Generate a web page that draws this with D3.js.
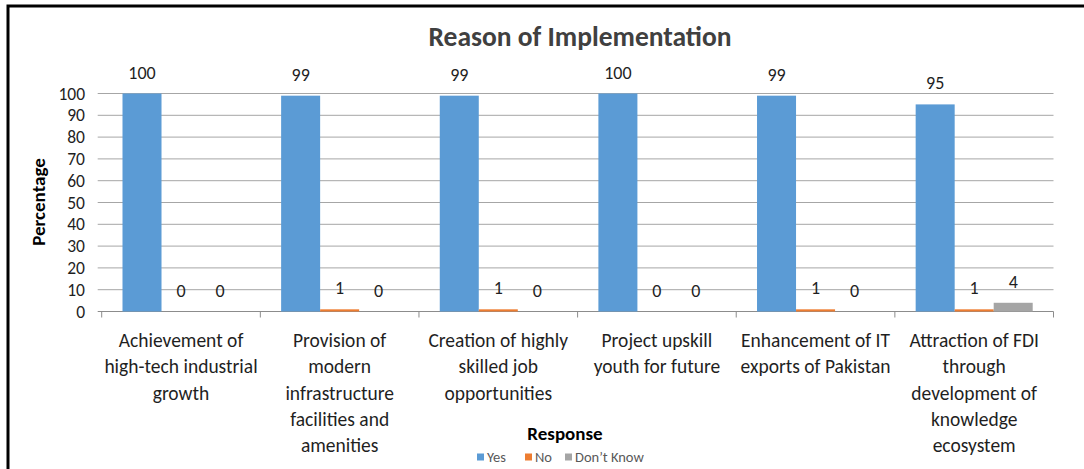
<!DOCTYPE html>
<html>
<head>
<meta charset="utf-8">
<script src="https://cdn.jsdelivr.net/npm/d3@7"></script>
<style>
  html, body { margin: 0; padding: 0; background: #fff; }
  svg { display: block; }
  text { font-family: Carlito, Lato, "Open Sans", sans-serif; }
</style>
</head>
<body>
<svg id="chart" width="1084" height="469"></svg>
<script>
// Survey responses per reason (percent)
const categories = [
  ["Achievement of", "high-tech industrial", "growth"],
  ["Provision of", "modern", "infrastructure", "facilities and", "amenities"],
  ["Creation of highly", "skilled job", "opportunities"],
  ["Project upskill", "youth for future"],
  ["Enhancement of IT", "exports of Pakistan"],
  ["Attraction of FDI", "through", "development of", "knowledge", "ecosystem"]
];
const seriesNames = ["Yes", "No", "Don\u2019t Know"];
const yesValues = [100, 99, 99, 100, 99, 95];
const noValues = [0, 1, 1, 0, 1, 1];
const dontKnowValues = [0, 0, 0, 0, 0, 4];
const yTicks = [0, 10, 20, 30, 40, 50, 60, 70, 80, 90, 100];
const colors = ["#5B9BD5", "#ED7D31", "#A5A5A5"];

const values = [yesValues, noValues, dontKnowValues];
const catKeys = categories.map((c, i) => i);

const svg = d3.select("#chart");
const W = 1084, H = 469;
const plot = { left: 101.7, right: 1053.5, top: 93.5, bottom: 311.5 };
const textColor = "#1f1f1f";

// outer frame
svg.append("path")
  .attr("d", `M8,${H} L8,6 L${W},6`)
  .attr("fill", "none").attr("stroke", "#000").attr("stroke-width", 3);

const x = d3.scaleBand().domain(catKeys).range([plot.left, plot.right]).padding(0);
const xs = d3.scaleBand().domain(d3.range(seriesNames.length))
  .range([0, x.bandwidth()]).paddingInner(0).paddingOuter(0.533);
const y = d3.scaleLinear().domain([0, 100]).range([plot.bottom, plot.top]);

// gridlines + y tick labels
const yAxis = svg.append("g");
yAxis.selectAll("line.grid").data(yTicks).join("line")
  .attr("x1", plot.left - 4).attr("x2", plot.right)
  .attr("y1", d => y(d)).attr("y2", d => y(d))
  .attr("stroke", d => d === 0 ? "#8c8c8c" : "#a6a6a6").attr("stroke-width", 1);
yAxis.selectAll("text").data(yTicks).join("text")
  .attr("x", 85).attr("y", d => y(d))
  .attr("text-anchor", "end").attr("dominant-baseline", "central")
  .attr("font-size", 17.5).attr("fill", textColor)
  .text(d => d);

// category boundary ticks
const bounds = catKeys.map(k => x(k)).concat([plot.right]);
svg.append("g").selectAll("line").data(bounds).join("line")
  .attr("x1", d => d).attr("x2", d => d)
  .attr("y1", plot.bottom).attr("y2", plot.bottom + 6)
  .attr("stroke", "#8c8c8c");

// bars
const groups = svg.append("g").selectAll("g").data(catKeys).join("g")
  .attr("transform", k => `translate(${x(k)},0)`);
groups.selectAll("rect")
  .data(k => values.map((v, s) => ({ s, v: v[k] })))
  .join("rect")
  .attr("x", d => xs(d.s)).attr("width", xs.bandwidth())
  .attr("y", d => y(d.v)).attr("height", d => y(0) - y(d.v))
  .attr("fill", d => colors[d.s]);
// value labels
groups.selectAll("text.val")
  .data(k => values.map((v, s) => ({ s, v: v[k] })))
  .join("text")
  .attr("class", "val")
  .attr("x", d => xs(d.s) + xs.bandwidth() / 2)
  .attr("y", d => y(d.v) - 21)
  .attr("text-anchor", "middle").attr("dominant-baseline", "central")
  .attr("font-size", 18).attr("fill", textColor)
  .text(d => d.v);

// category labels
const catLabels = svg.append("g").selectAll("text").data(catKeys).join("text")
  .attr("x", k => x(k) + x.bandwidth() / 2)
  .attr("text-anchor", "middle")
  .attr("font-size", 19.5).attr("fill", textColor);
catLabels.selectAll("tspan").data(k => categories[k]).join("tspan")
  .attr("x", function () { return d3.select(this.parentNode).attr("x"); })
  .attr("y", (d, i) => 340 + i * 26.3)
  .attr("dominant-baseline", "central")
  .text(d => d);

// title
svg.append("text")
  .attr("x", 580).attr("y", 36)
  .attr("text-anchor", "middle").attr("dominant-baseline", "central")
  .attr("font-size", 27.5).attr("font-weight", "bold").attr("fill", "#404040")
  .text("Reason of Implementation");

// y-axis title
svg.append("text")
  .attr("transform", "translate(38,202) rotate(-90)")
  .attr("text-anchor", "middle").attr("dominant-baseline", "central")
  .attr("font-size", 19).attr("font-weight", "bold").attr("fill", "#000")
  .text("Percentage");

// legend
svg.append("text")
  .attr("x", 565).attr("y", 433)
  .attr("text-anchor", "middle").attr("dominant-baseline", "central")
  .attr("font-size", 19).attr("font-weight", "bold").attr("fill", "#000")
  .text("Response");
const legendX = [477, 525, 565];
const leg = svg.append("g").selectAll("g").data(seriesNames).join("g")
  .attr("transform", (d, i) => `translate(${legendX[i]},457)`);
leg.append("rect").attr("x", 0).attr("y", -3.5).attr("width", 7).attr("height", 7)
  .attr("fill", (d, i) => colors[i]);
leg.append("text").attr("x", 10).attr("y", 0)
  .attr("dominant-baseline", "central")
  .attr("font-size", 14.5).attr("fill", "#595959")
  .text(d => d);
</script>
</body>
</html>
